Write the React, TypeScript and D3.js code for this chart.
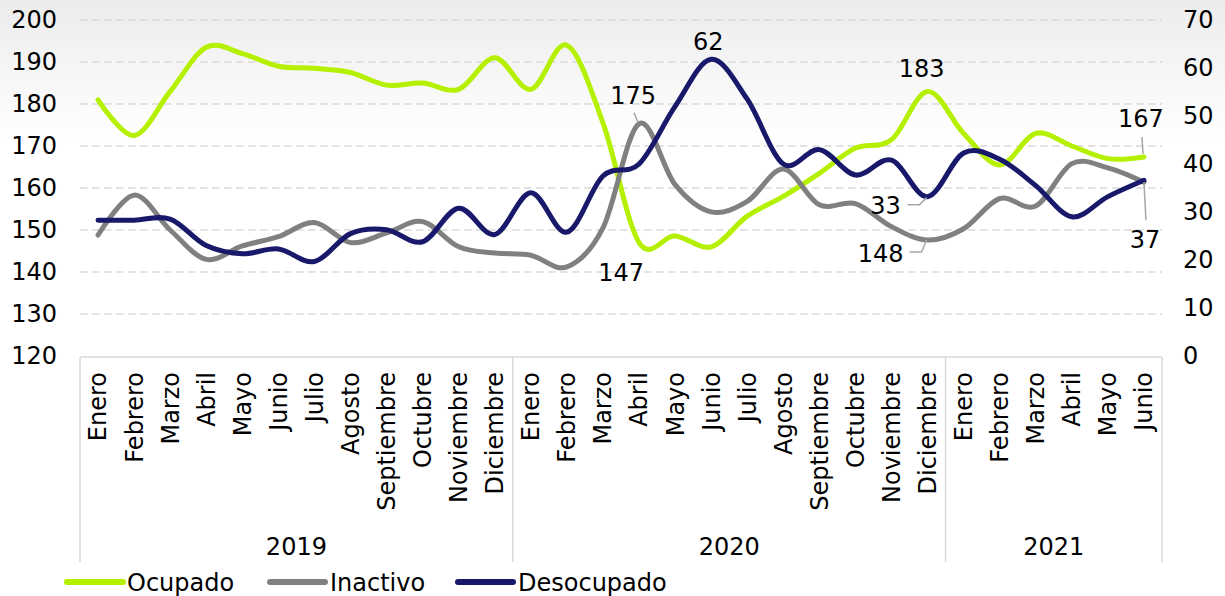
import React from "react";
import * as d3 from "d3";

const months = [
  "Enero","Febrero","Marzo","Abril","Mayo","Junio","Julio","Agosto","Septiembre","Octubre","Noviembre","Diciembre",
  "Enero","Febrero","Marzo","Abril","Mayo","Junio","Julio","Agosto","Septiembre","Octubre","Noviembre","Diciembre",
  "Enero","Febrero","Marzo","Abril","Mayo","Junio",
];
const years = ["2019", "2020", "2021"];
const yearCounts = [12, 12, 6];

const ocupado = [
  181, 172.5, 183, 193.5, 192, 189, 188.5, 187.5, 184.5, 185, 183.5, 191,
  183.5, 194, 175.5, 147, 148.6, 146, 153.3, 158, 163.5, 169.5, 171.5, 183,
  173, 165.5, 173, 170, 167, 167.4,
];
const inactivo = [
  148.8, 158.3, 150, 143, 146.2, 148.4, 151.8, 147, 149.3, 152, 146, 144.5,
  144, 141.2, 150.5, 175.3, 160.8, 154.3, 156.8, 164.5, 156, 156.3, 150.8, 147.6,
  150.3, 157.5, 155.7, 165.8, 164.8, 161.4,
];
const desocupado = [
  28.3, 28.3, 28.5, 23, 21.3, 22.3, 19.7, 25.5, 26.3, 23.8, 30.8, 25.3,
  34, 25.8, 37.5, 40, 52, 61.8, 53.5, 40, 43, 37.7, 40.8, 33.2,
  42.3, 41, 35.5, 29, 33.2, 36.6,
];
const leftTicks = [120, 130, 140, 150, 160, 170, 180, 190, 200];
const rightTicks = [0, 10, 20, 30, 40, 50, 60, 70];

const series = [
  { name: "Ocupado", values: ocupado, color: "#b4f000", axis: "L" },
  { name: "Inactivo", values: inactivo, color: "#808080", axis: "L" },
  { name: "Desocupado", values: desocupado, color: "#19196b", axis: "R" },
];

const FONT = "DejaVu Sans";

export default function App() {
  const W = 1225, H = 596;
  const left = 80, right = 1162, top = 20, bottom = 356;
  const idx = months.map((_, i) => i);
  const x = d3.scaleBand<number>().domain(idx).range([left, right]);
  const cx = (i: number) => (x(i) as number) + x.bandwidth() / 2;
  const yL = d3.scaleLinear().domain([120, 200]).range([bottom, top]);
  const yR = d3.scaleLinear().domain([0, 70]).range([bottom, top]);
  const curve = d3.curveCardinal.tension(0);

  const lineFor = (s: typeof series[number]) => {
    const ys = s.axis === "L" ? yL : yR;
    return d3.line<number>().x((_, i) => cx(i)).y((v) => ys(v)).curve(curve)(s.values) || "";
  };

  // year boundaries
  const bounds: number[] = [0];
  yearCounts.forEach((c, k) => bounds.push(bounds[k] + c));

  const boxBottom = 562;

  // data labels
  const lbl = (text: string, px: number, py: number, lines?: [number, number][]) => ({ text, px, py, lines });
  const iAbr20 = 15, iJun20 = 17, iDic20 = 23, iJun21 = 29;
  const labels = [
    lbl(String(Math.round(ocupado[iAbr20])), cx(iAbr20) - 18, yL(ocupado[iAbr20]) + 38),
    lbl(String(Math.round(inactivo[iAbr20])), cx(iAbr20) - 6, yL(inactivo[iAbr20]) - 20,
      [[cx(iAbr20) - 5, yL(inactivo[iAbr20]) - 11], [cx(iAbr20) - 1, yL(inactivo[iAbr20]) - 1]]),
    lbl(String(Math.round(desocupado[iJun20])), cx(iJun20) - 3, yR(desocupado[iJun20]) - 9),
    lbl(String(Math.round(ocupado[iDic20])), cx(iDic20) - 6, yL(ocupado[iDic20]) - 14),
    lbl(String(Math.round(desocupado[iDic20])), cx(iDic20) - 42, yR(desocupado[iDic20]) + 17,
      [[cx(iDic20) - 20, yR(desocupado[iDic20]) + 8], [cx(iDic20) - 8, yR(desocupado[iDic20]) + 8], [cx(iDic20) - 1, yR(desocupado[iDic20]) + 1]]),
    lbl(String(Math.round(inactivo[iDic20])), cx(iDic20) - 47, yL(inactivo[iDic20]) + 22,
      [[cx(iDic20) - 18, yL(inactivo[iDic20]) + 12], [cx(iDic20) - 6, yL(inactivo[iDic20]) + 12], [cx(iDic20) - 1, yL(inactivo[iDic20])]]),
    lbl(String(Math.round(ocupado[iJun21])), cx(iJun21) - 3, yL(ocupado[iJun21]) - 30,
      [[cx(iJun21) - 2, yL(ocupado[iJun21]) - 20], [cx(iJun21) - 1, yL(ocupado[iJun21]) - 3]]),
    lbl(String(Math.round(desocupado[iJun21])), cx(iJun21) + 1, yR(desocupado[iJun21]) + 68,
      [[cx(iJun21), yR(desocupado[iJun21]) + 2], [cx(iJun21) + 2, yR(desocupado[iJun21]) + 40]]),
  ];

  const legend = [
    { s: series[0], x0: 67, x1: 123, tx: 127 },
    { s: series[1], x0: 270, x1: 325, tx: 330 },
    { s: series[2], x0: 458, x1: 513, tx: 518 },
  ];

  return (
    <svg width={W} height={H} style={{ position: "absolute", left: 0, top: 0, background: "#fff" }}
      fontFamily={FONT}>
      <defs>
        <linearGradient id="bg" x1="0" y1="0" x2="0" y2="1">
          <stop offset="0" stopColor="#ececec" />
          <stop offset="1" stopColor="#ffffff" />
        </linearGradient>
      </defs>
      <rect x={0} y={0} width={W} height={140} fill="url(#bg)" />

      {/* gridlines */}
      {leftTicks.filter((t) => t > 120).map((t) => (
        <line key={"g" + t} x1={left} x2={right} y1={yL(t)} y2={yL(t)} stroke="#d9d9d9" strokeWidth={1.5} strokeDasharray="7.5,4.5" />
      ))}

      {/* left ticks */}
      {leftTicks.map((t) => (
        <text key={"l" + t} x={57} y={yL(t)} dy="0.35em" textAnchor="end" fontSize={24} fill="#000">{t}</text>
      ))}
      {/* right ticks */}
      {rightTicks.map((t) => (
        <text key={"r" + t} x={1183} y={yR(t)} dy="0.35em" textAnchor="start" fontSize={24} fill="#000">{t}</text>
      ))}

      {/* category box */}
      <line x1={left} x2={right} y1={bottom + 1} y2={bottom + 1} stroke="#d9d9d9" strokeWidth={1.5} />
      {bounds.map((b, k) => {
        const bx = b === months.length ? right : (x(b) as number);
        return <line key={"b" + k} x1={bx} x2={bx} y1={bottom + 1} y2={boxBottom} stroke="#d9d9d9" strokeWidth={1.5} />;
      })}
      {months.map((m, i) => (
        <text key={"m" + i} transform={`translate(${cx(i)},372) rotate(-90)`} dy="0.35em" textAnchor="end" fontSize={24} fill="#000">{m}</text>
      ))}
      {years.map((yv, k) => {
        const a = x(bounds[k]) as number;
        const b = bounds[k + 1] === months.length ? right : (x(bounds[k + 1]) as number);
        return <text key={"y" + k} x={(a + b) / 2} y={555} textAnchor="middle" fontSize={24} fill="#000">{yv}</text>;
      })}

      {/* lines */}
      {series.map((s) => (
        <path key={s.name} d={lineFor(s)} fill="none" stroke={s.color} strokeWidth={5} strokeLinecap="round" strokeLinejoin="round" />
      ))}

      {/* data labels */}
      {labels.map((l, k) => (
        <g key={"dl" + k}>
          {l.lines && (
            <polyline points={l.lines.map((p) => p.join(",")).join(" ")} fill="none" stroke="#a6a6a6" strokeWidth={1.5} />
          )}
          <text x={l.px} y={l.py} textAnchor="middle" fontSize={24} fill="#000">{l.text}</text>
        </g>
      ))}

      {/* legend */}
      {legend.map((L) => (
        <g key={"lg" + L.s.name}>
          <line x1={L.x0} x2={L.x1} y1={582} y2={582} stroke={L.s.color} strokeWidth={6} strokeLinecap="round" />
          <text x={L.tx} y={591} fontSize={24} fill="#000">{L.s.name}</text>
        </g>
      ))}
    </svg>
  );
}
